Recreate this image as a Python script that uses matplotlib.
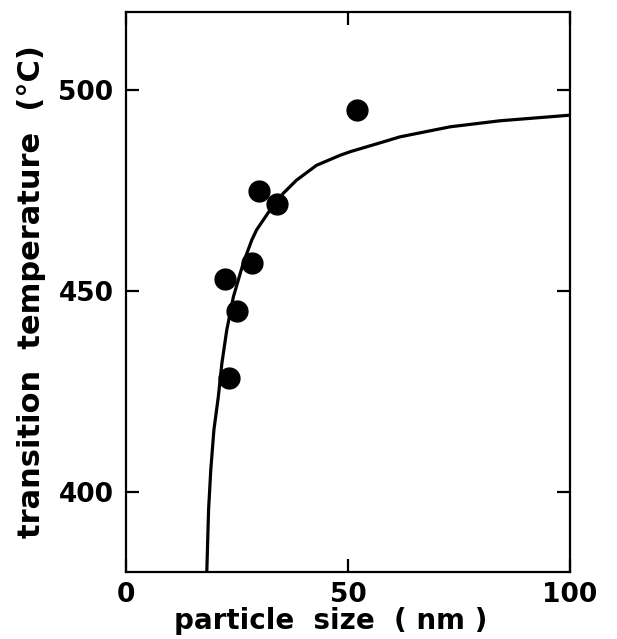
import matplotlib
matplotlib.use("Agg")
import matplotlib.pyplot as plt

# measured points
size_nm = [22.2, 25.0, 23.3, 28.4, 30.0, 34.1, 52.1]
temp_c = [452.9, 444.9, 428.2, 456.9, 474.8, 471.7, 495.2]

# fitted curve
curve_x = [18.2, 18.6, 19.1, 19.8, 20.8, 21.6, 22.7, 24.2, 26.4, 28.3, 29.4,
           32.4, 35.4, 38.4, 42.9, 48.2, 50.5, 57.2, 61.7, 73.0, 84.2, 100.0]
curve_y = [380.0, 395.5, 405.5, 415.4, 423.7, 432.0, 440.3, 448.6, 456.9, 462.6, 465.2,
           470.1, 474.3, 477.6, 481.3, 483.8, 484.7, 486.9, 488.4, 490.9, 492.4, 493.8]

x_ticks = [0, 50, 100]
y_ticks = [400, 450, 500]


def main():
    fig = plt.figure(figsize=(6.17, 6.39), dpi=100)
    ax = fig.add_axes([0.2042, 0.1049, 0.7196, 0.8763])

    ax.plot(curve_x, curve_y, color="black", lw=2.3, solid_joinstyle="round")
    ax.plot(size_nm, temp_c, "o", color="black", ms=15, zorder=3)

    ax.set_xlim(0, 100)
    ax.set_ylim(380, 519.5)
    ax.set_xticks(x_ticks)
    ax.set_yticks(y_ticks)

    for s in ax.spines.values():
        s.set_linewidth(1.6)

    ax.tick_params(direction="in", length=9.5, width=1.6, top=True, right=True,
                   labelsize=19)
    ax.tick_params(axis="x", pad=7)
    ax.tick_params(axis="y", pad=9)
    for lab in ax.get_xticklabels() + ax.get_yticklabels():
        lab.set_fontweight("bold")

    ax.set_xlabel("particle  size  ( nm )", fontsize=20, fontweight="bold")
    ax.xaxis.set_label_coords(0.46, -0.062)
    ax.set_ylabel("transition  temperature  (°C)", fontsize=22, fontweight="bold", labelpad=9)

    fig.savefig("out.png", dpi=100)


if __name__ == "__main__":
    main()
